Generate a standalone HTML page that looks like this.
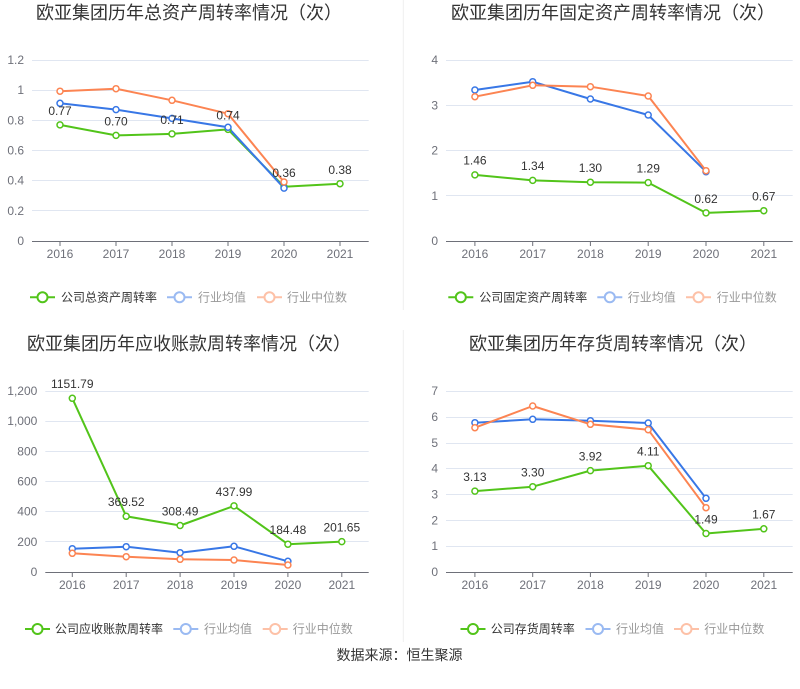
<!DOCTYPE html>
<html><head><meta charset="utf-8"><style>
html,body{margin:0;padding:0;background:#fff;}
svg{display:block;font-family:"Liberation Sans","Noto Sans CJK SC",sans-serif;}
.t{font-size:18px;fill:#333;text-anchor:middle;}
.yl{font-size:12px;fill:#6e7079;text-anchor:end;}
.xl{font-size:12px;fill:#6e7079;text-anchor:middle;}
.lb{font-size:12px;fill:#333;text-anchor:middle;}
.lg{font-size:12px;fill:#333;}
.lg2{font-size:12px;fill:#999;}
.g{stroke:#e0e6f1;stroke-width:1;}
.ax{stroke:#6e7079;stroke-width:1;}
.sg{fill:none;stroke:#52c41a;stroke-width:2;stroke-linejoin:round;}
.sb{fill:none;stroke:#3877e6;stroke-width:2;stroke-linejoin:round;}
.so{fill:none;stroke:#fc8452;stroke-width:2;stroke-linejoin:round;}
.mg{fill:#fff;stroke:#52c41a;stroke-width:1.5;}
.mb{fill:#fff;stroke:#3877e6;stroke-width:1.5;}
.mo{fill:#fff;stroke:#fc8452;stroke-width:1.5;}
</style></head><body>
<svg width="800" height="689" viewBox="0 0 800 689" xmlns="http://www.w3.org/2000/svg">
<rect width="800" height="689" fill="#fff"/>
<line x1="403.3" y1="0" x2="403.3" y2="310" stroke="#eeeeee"/>
<line x1="403.3" y1="330" x2="403.3" y2="642" stroke="#eeeeee"/>

<!-- ===== TL ===== -->
<text class="t" x="189" y="19">欧亚集团历年总资产周转率情况（次）</text>
<g>
<line class="g" x1="32" y1="60.5" x2="368.7" y2="60.5"/>
<line class="g" x1="32" y1="90.5" x2="368.7" y2="90.5"/>
<line class="g" x1="32" y1="120.5" x2="368.7" y2="120.5"/>
<line class="g" x1="32" y1="150.5" x2="368.7" y2="150.5"/>
<line class="g" x1="32" y1="180.5" x2="368.7" y2="180.5"/>
<line class="g" x1="32" y1="210.5" x2="368.7" y2="210.5"/>
<line class="ax" x1="32" y1="241.5" x2="368.7" y2="241.5"/>
<text class="yl" x="24" y="64">1.2</text>
<text class="yl" x="24" y="94">1</text>
<text class="yl" x="24" y="124.5">0.8</text>
<text class="yl" x="24" y="154.5">0.6</text>
<text class="yl" x="24" y="184.5">0.4</text>
<text class="yl" x="24" y="215">0.2</text>
<text class="yl" x="24" y="245">0</text>
<g class="ax"><line x1="60" y1="241" x2="60" y2="246"/><line x1="116" y1="241" x2="116" y2="246"/><line x1="172" y1="241" x2="172" y2="246"/><line x1="228" y1="241" x2="228" y2="246"/><line x1="284" y1="241" x2="284" y2="246"/><line x1="340" y1="241" x2="340" y2="246"/></g>
<text class="xl" x="60" y="258">2016</text><text class="xl" x="116" y="258">2017</text><text class="xl" x="172" y="258">2018</text><text class="xl" x="228" y="258">2019</text><text class="xl" x="284" y="258">2020</text><text class="xl" x="340" y="258">2021</text>
<polyline class="sg" points="60,124.9 116,135.4 172,133.9 228,129.4 284,186.7 340,183.7"/>
<polyline class="sb" points="60,103.3 116,109.6 172,118.4 228,127.3 284,188.1"/>
<polyline class="so" points="60,91.2 116,88.7 172,100.3 228,113.7 284,182"/>
<g class="mg"><circle cx="60" cy="124.9" r="3"/><circle cx="116" cy="135.4" r="3"/><circle cx="172" cy="133.9" r="3"/><circle cx="228" cy="129.4" r="3"/><circle cx="284" cy="186.7" r="3"/><circle cx="340" cy="183.7" r="3"/></g>
<g class="mb"><circle cx="60" cy="103.3" r="3"/><circle cx="116" cy="109.6" r="3"/><circle cx="172" cy="118.4" r="3"/><circle cx="228" cy="127.3" r="3"/><circle cx="284" cy="188.1" r="3"/></g>
<g class="mo"><circle cx="60" cy="91.2" r="3"/><circle cx="116" cy="88.7" r="3"/><circle cx="172" cy="100.3" r="3"/><circle cx="228" cy="113.7" r="3"/><circle cx="284" cy="182" r="3"/></g>
<text class="lb" x="60" y="115">0.77</text><text class="lb" x="116" y="125.5">0.70</text><text class="lb" x="172" y="124">0.71</text><text class="lb" x="228" y="119.5">0.74</text><text class="lb" x="284" y="177">0.36</text><text class="lb" x="340" y="174">0.38</text>
<line x1="30" y1="297.3" x2="55" y2="297.3" stroke="#52c41a" stroke-width="2"/><circle cx="42.5" cy="297.3" r="5" fill="#fff" stroke="#52c41a" stroke-width="2"/>
<text class="lg" x="61" y="301.5">公司总资产周转率</text>
<g opacity="0.5"><line x1="167" y1="297.3" x2="192" y2="297.3" stroke="#3877e6" stroke-width="2"/><circle cx="179.5" cy="297.3" r="5" fill="#fff" stroke="#3877e6" stroke-width="2"/></g>
<text class="lg2" x="198" y="301.5">行业均值</text>
<g opacity="0.5"><line x1="257" y1="297.3" x2="282" y2="297.3" stroke="#fc8452" stroke-width="2"/><circle cx="269.5" cy="297.3" r="5" fill="#fff" stroke="#fc8452" stroke-width="2"/></g>
<text class="lg2" x="287" y="301.5">行业中位数</text>
</g>

<!-- ===== TR ===== -->
<text class="t" x="613" y="19">欧亚集团历年固定资产周转率情况（次）</text>
<g>
<line class="g" x1="446" y1="60.5" x2="792.7" y2="60.5"/>
<line class="g" x1="446" y1="105.5" x2="792.7" y2="105.5"/>
<line class="g" x1="446" y1="150.5" x2="792.7" y2="150.5"/>
<line class="g" x1="446" y1="195.5" x2="792.7" y2="195.5"/>
<line class="ax" x1="446" y1="241.5" x2="792.7" y2="241.5"/>
<text class="yl" x="438" y="64">4</text>
<text class="yl" x="438" y="109.5">3</text>
<text class="yl" x="438" y="154.5">2</text>
<text class="yl" x="438" y="200">1</text>
<text class="yl" x="438" y="245">0</text>
<g class="ax"><line x1="474.9" y1="241" x2="474.9" y2="246"/><line x1="532.7" y1="241" x2="532.7" y2="246"/><line x1="590.4" y1="241" x2="590.4" y2="246"/><line x1="648.2" y1="241" x2="648.2" y2="246"/><line x1="706" y1="241" x2="706" y2="246"/><line x1="763.8" y1="241" x2="763.8" y2="246"/></g>
<text class="xl" x="474.9" y="258">2016</text><text class="xl" x="532.7" y="258">2017</text><text class="xl" x="590.4" y="258">2018</text><text class="xl" x="648.2" y="258">2019</text><text class="xl" x="706" y="258">2020</text><text class="xl" x="763.8" y="258">2021</text>
<polyline class="sg" points="474.9,174.9 532.7,180.4 590.4,182.2 648.2,182.6 706,212.9 763.8,210.7"/>
<polyline class="sb" points="474.9,90 532.7,81.7 590.4,99 648.2,115 706,171.7"/>
<polyline class="so" points="474.9,96.7 532.7,85.3 590.4,86.7 648.2,96 706,170.7"/>
<g class="mg"><circle cx="474.9" cy="174.9" r="3"/><circle cx="532.7" cy="180.4" r="3"/><circle cx="590.4" cy="182.2" r="3"/><circle cx="648.2" cy="182.6" r="3"/><circle cx="706" cy="212.9" r="3"/><circle cx="763.8" cy="210.7" r="3"/></g>
<g class="mb"><circle cx="474.9" cy="90" r="3"/><circle cx="532.7" cy="81.7" r="3"/><circle cx="590.4" cy="99" r="3"/><circle cx="648.2" cy="115" r="3"/><circle cx="706" cy="171.7" r="3"/></g>
<g class="mo"><circle cx="474.9" cy="96.7" r="3"/><circle cx="532.7" cy="85.3" r="3"/><circle cx="590.4" cy="86.7" r="3"/><circle cx="648.2" cy="96" r="3"/><circle cx="706" cy="170.7" r="3"/></g>
<text class="lb" x="474.9" y="164.5">1.46</text><text class="lb" x="532.7" y="170">1.34</text><text class="lb" x="590.4" y="172">1.30</text><text class="lb" x="648.2" y="172.5">1.29</text><text class="lb" x="706" y="203">0.62</text><text class="lb" x="763.8" y="200.5">0.67</text>
<line x1="448.3" y1="297.3" x2="473.3" y2="297.3" stroke="#52c41a" stroke-width="2"/><circle cx="460.8" cy="297.3" r="5" fill="#fff" stroke="#52c41a" stroke-width="2"/>
<text class="lg" x="479.3" y="301.5">公司固定资产周转率</text>
<g opacity="0.5"><line x1="597.3" y1="297.3" x2="622.3" y2="297.3" stroke="#3877e6" stroke-width="2"/><circle cx="609.8" cy="297.3" r="5" fill="#fff" stroke="#3877e6" stroke-width="2"/></g>
<text class="lg2" x="627.7" y="301.5">行业均值</text>
<g opacity="0.5"><line x1="686" y1="297.3" x2="711" y2="297.3" stroke="#fc8452" stroke-width="2"/><circle cx="698.5" cy="297.3" r="5" fill="#fff" stroke="#fc8452" stroke-width="2"/></g>
<text class="lg2" x="716.7" y="301.5">行业中位数</text>
</g>

<!-- ===== BL ===== -->
<text class="t" x="189" y="350">欧亚集团历年应收账款周转率情况（次）</text>
<g>
<line class="g" x1="45.3" y1="391.5" x2="368.7" y2="391.5"/>
<line class="g" x1="45.3" y1="421.5" x2="368.7" y2="421.5"/>
<line class="g" x1="45.3" y1="451.5" x2="368.7" y2="451.5"/>
<line class="g" x1="45.3" y1="481.5" x2="368.7" y2="481.5"/>
<line class="g" x1="45.3" y1="511.5" x2="368.7" y2="511.5"/>
<line class="g" x1="45.3" y1="541.5" x2="368.7" y2="541.5"/>
<line class="ax" x1="45.3" y1="572.5" x2="368.7" y2="572.5"/>
<text class="yl" x="37.3" y="395">1,200</text>
<text class="yl" x="37.3" y="425">1,000</text>
<text class="yl" x="37.3" y="455.5">800</text>
<text class="yl" x="37.3" y="485.5">600</text>
<text class="yl" x="37.3" y="515.5">400</text>
<text class="yl" x="37.3" y="546">200</text>
<text class="yl" x="37.3" y="576">0</text>
<g class="ax"><line x1="72.3" y1="572" x2="72.3" y2="577"/><line x1="126.2" y1="572" x2="126.2" y2="577"/><line x1="180.1" y1="572" x2="180.1" y2="577"/><line x1="234" y1="572" x2="234" y2="577"/><line x1="287.9" y1="572" x2="287.9" y2="577"/><line x1="341.8" y1="572" x2="341.8" y2="577"/></g>
<text class="xl" x="72.3" y="589">2016</text><text class="xl" x="126.2" y="589">2017</text><text class="xl" x="180.1" y="589">2018</text><text class="xl" x="234" y="589">2019</text><text class="xl" x="287.9" y="589">2020</text><text class="xl" x="341.8" y="589">2021</text>
<polyline class="sg" points="72.3,398.3 126.2,516.3 180.1,525.5 234,505.9 287.9,544.2 341.8,541.6"/>
<polyline class="sb" points="72.3,548.7 126.2,546.7 180.1,552.7 234,546.3 287.9,561.3"/>
<polyline class="so" points="72.3,553.3 126.2,556.7 180.1,559.3 234,560 287.9,565"/>
<g class="mg"><circle cx="72.3" cy="398.3" r="3"/><circle cx="126.2" cy="516.3" r="3"/><circle cx="180.1" cy="525.5" r="3"/><circle cx="234" cy="505.9" r="3"/><circle cx="287.9" cy="544.2" r="3"/><circle cx="341.8" cy="541.6" r="3"/></g>
<g class="mb"><circle cx="72.3" cy="548.7" r="3"/><circle cx="126.2" cy="546.7" r="3"/><circle cx="180.1" cy="552.7" r="3"/><circle cx="234" cy="546.3" r="3"/><circle cx="287.9" cy="561.3" r="3"/></g>
<g class="mo"><circle cx="72.3" cy="553.3" r="3"/><circle cx="126.2" cy="556.7" r="3"/><circle cx="180.1" cy="559.3" r="3"/><circle cx="234" cy="560" r="3"/><circle cx="287.9" cy="565" r="3"/></g>
<text class="lb" x="72.3" y="388">1151.79</text><text class="lb" x="126.2" y="506">369.52</text><text class="lb" x="180.1" y="515.5">308.49</text><text class="lb" x="234" y="496">437.99</text><text class="lb" x="287.9" y="534">184.48</text><text class="lb" x="341.8" y="531.5">201.65</text>
<line x1="25" y1="629" x2="50" y2="629" stroke="#52c41a" stroke-width="2"/><circle cx="37.5" cy="629" r="5" fill="#fff" stroke="#52c41a" stroke-width="2"/>
<text class="lg" x="55" y="633.2">公司应收账款周转率</text>
<g opacity="0.5"><line x1="173.3" y1="629" x2="198.3" y2="629" stroke="#3877e6" stroke-width="2"/><circle cx="185.8" cy="629" r="5" fill="#fff" stroke="#3877e6" stroke-width="2"/></g>
<text class="lg2" x="204" y="633.2">行业均值</text>
<g opacity="0.5"><line x1="262.7" y1="629" x2="287.7" y2="629" stroke="#fc8452" stroke-width="2"/><circle cx="275.2" cy="629" r="5" fill="#fff" stroke="#fc8452" stroke-width="2"/></g>
<text class="lg2" x="292.7" y="633.2">行业中位数</text>
</g>

<!-- ===== BR ===== -->
<text class="t" x="613" y="350">欧亚集团历年存货周转率情况（次）</text>
<g>
<line class="g" x1="446" y1="391.5" x2="792.7" y2="391.5"/>
<line class="g" x1="446" y1="417.5" x2="792.7" y2="417.5"/>
<line class="g" x1="446" y1="443.5" x2="792.7" y2="443.5"/>
<line class="g" x1="446" y1="468.5" x2="792.7" y2="468.5"/>
<line class="g" x1="446" y1="494.5" x2="792.7" y2="494.5"/>
<line class="g" x1="446" y1="520.5" x2="792.7" y2="520.5"/>
<line class="g" x1="446" y1="546.5" x2="792.7" y2="546.5"/>
<line class="ax" x1="446" y1="572.5" x2="792.7" y2="572.5"/>
<text class="yl" x="438" y="395">7</text>
<text class="yl" x="438" y="421">6</text>
<text class="yl" x="438" y="447">5</text>
<text class="yl" x="438" y="472.5">4</text>
<text class="yl" x="438" y="498.5">3</text>
<text class="yl" x="438" y="524.5">2</text>
<text class="yl" x="438" y="550">1</text>
<text class="yl" x="438" y="576">0</text>
<g class="ax"><line x1="474.9" y1="572" x2="474.9" y2="577"/><line x1="532.7" y1="572" x2="532.7" y2="577"/><line x1="590.4" y1="572" x2="590.4" y2="577"/><line x1="648.2" y1="572" x2="648.2" y2="577"/><line x1="706" y1="572" x2="706" y2="577"/><line x1="763.8" y1="572" x2="763.8" y2="577"/></g>
<text class="xl" x="474.9" y="589">2016</text><text class="xl" x="532.7" y="589">2017</text><text class="xl" x="590.4" y="589">2018</text><text class="xl" x="648.2" y="589">2019</text><text class="xl" x="706" y="589">2020</text><text class="xl" x="763.8" y="589">2021</text>
<polyline class="sg" points="474.9,491.1 532.7,486.7 590.4,470.6 648.2,465.7 706,533.5 763.8,528.8"/>
<polyline class="sb" points="474.9,422.7 532.7,419.3 590.4,420.7 648.2,423 706,498.3"/>
<polyline class="so" points="474.9,427.7 532.7,406 590.4,424.3 648.2,429.7 706,507.7"/>
<g class="mg"><circle cx="474.9" cy="491.1" r="3"/><circle cx="532.7" cy="486.7" r="3"/><circle cx="590.4" cy="470.6" r="3"/><circle cx="648.2" cy="465.7" r="3"/><circle cx="706" cy="533.5" r="3"/><circle cx="763.8" cy="528.8" r="3"/></g>
<g class="mb"><circle cx="474.9" cy="422.7" r="3"/><circle cx="532.7" cy="419.3" r="3"/><circle cx="590.4" cy="420.7" r="3"/><circle cx="648.2" cy="423" r="3"/><circle cx="706" cy="498.3" r="3"/></g>
<g class="mo"><circle cx="474.9" cy="427.7" r="3"/><circle cx="532.7" cy="406" r="3"/><circle cx="590.4" cy="424.3" r="3"/><circle cx="648.2" cy="429.7" r="3"/><circle cx="706" cy="507.7" r="3"/></g>
<text class="lb" x="474.9" y="481">3.13</text><text class="lb" x="532.7" y="476.5">3.30</text><text class="lb" x="590.4" y="460.5">3.92</text><text class="lb" x="648.2" y="455.5">4.11</text><text class="lb" x="706" y="523.5">1.49</text><text class="lb" x="763.8" y="518.5">1.67</text>
<line x1="460.5" y1="629" x2="485.5" y2="629" stroke="#52c41a" stroke-width="2"/><circle cx="473" cy="629" r="5" fill="#fff" stroke="#52c41a" stroke-width="2"/>
<text class="lg" x="490.7" y="633.2">公司存货周转率</text>
<g opacity="0.5"><line x1="585.5" y1="629" x2="610.5" y2="629" stroke="#3877e6" stroke-width="2"/><circle cx="598" cy="629" r="5" fill="#fff" stroke="#3877e6" stroke-width="2"/></g>
<text class="lg2" x="616" y="633.2">行业均值</text>
<g opacity="0.5"><line x1="674" y1="629" x2="699" y2="629" stroke="#fc8452" stroke-width="2"/><circle cx="686.5" cy="629" r="5" fill="#fff" stroke="#fc8452" stroke-width="2"/></g>
<text class="lg2" x="704.3" y="633.2">行业中位数</text>
</g>

<text x="399.5" y="660" font-size="14" fill="#333" text-anchor="middle">数据来源：恒生聚源</text>
</svg>
</body></html>
